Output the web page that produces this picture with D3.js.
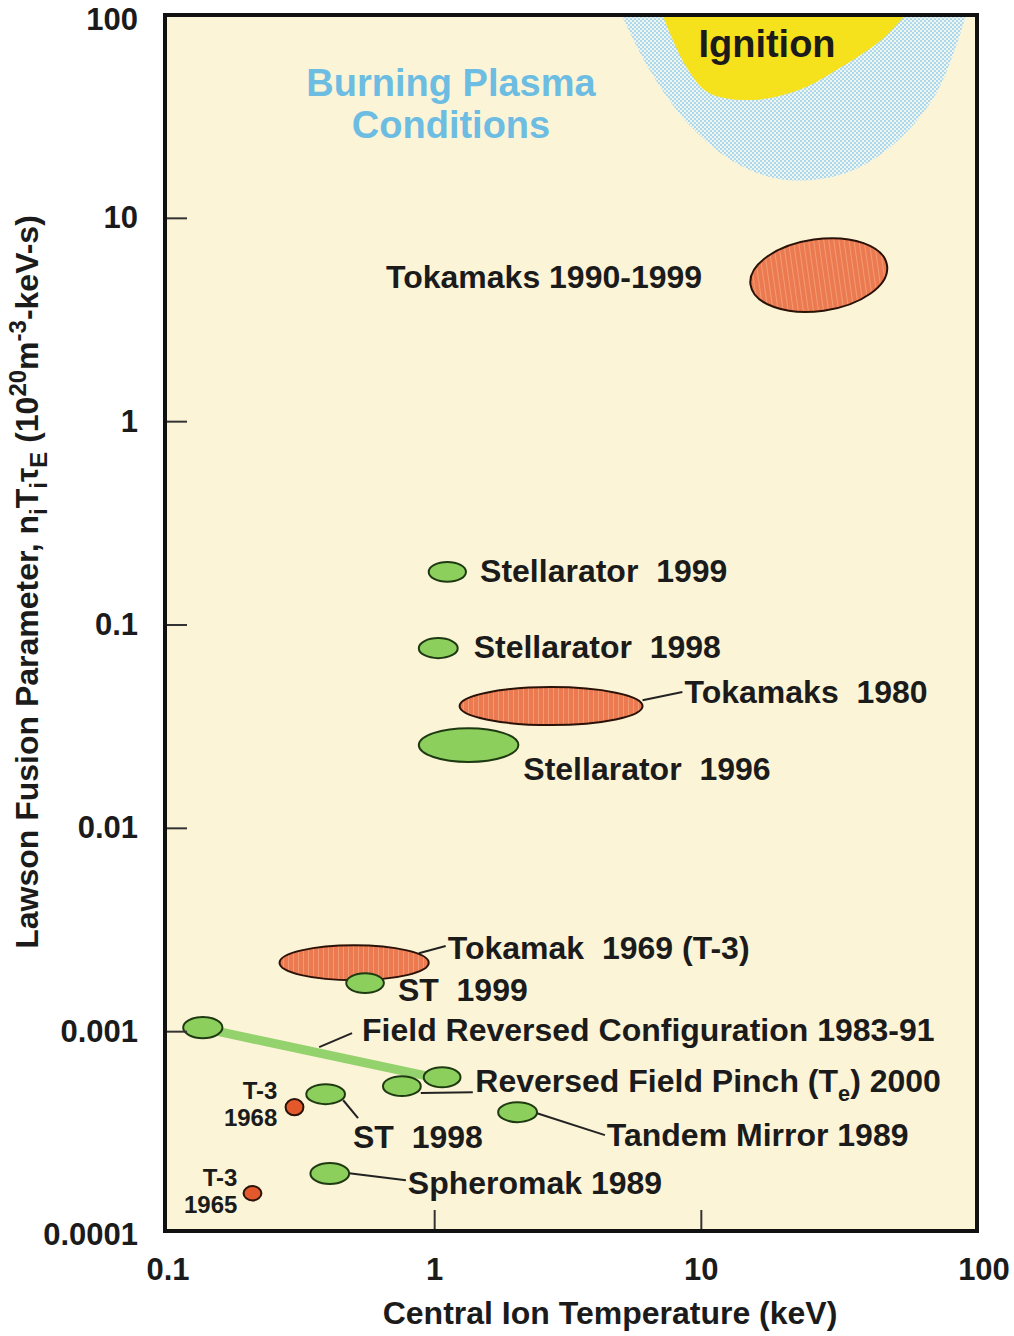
<!DOCTYPE html>
<html>
<head>
<meta charset="utf-8">
<script src="https://cdn.jsdelivr.net/npm/d3@7"></script>
<style>
  body { margin: 0; background: #fff; }
  text { font-family: "Liberation Sans", Arial, sans-serif; font-weight: bold; fill: #1b1b1b; white-space: pre; }
</style>
</head>
<body>
<svg width="1014" height="1336"></svg>
<script>
// axis ticks
var xTicks = [0.1, 1, 10, 100];
var xTickLabels = ["0.1", "1", "10", "100"];
var yTicks = [100, 10, 1, 0.1, 0.01, 0.001, 0.0001];
var yTickLabels = ["100", "10", "1", "0.1", "0.01", "0.001", "0.0001"];

// device regions (ellipses): temperature range (keV) and Lawson parameter range
var shapeNames = ["Tokamaks 1990-1999", "Stellarator 1999", "Stellarator 1998", "Tokamaks 1980",
  "Stellarator 1996", "Tokamak 1969", "ST 1999", "FRC 1983", "FRC 1991", "RFP 2000", "ST 1998",
  "T-3 1968", "Tandem Mirror 1989", "Spheromak 1989", "T-3 1965"];
var shapeKind = ["tok", "alt", "alt", "tok", "alt", "tok", "alt", "alt", "alt", "alt", "alt", "dot", "alt", "alt", "dot"];
var tempLo = [15.2, 0.95, 0.872, 1.24, 0.872, 0.262, 0.466, 0.114, 0.910, 0.640, 0.330, 0.276, 1.73, 0.342, 0.192];
var tempHi = [50.0, 1.31, 1.22, 6.02, 2.06, 0.95, 0.645, 0.160, 1.25, 0.887, 0.461, 0.322, 2.42, 0.478, 0.224];
var lawLo = [3.50, 0.163, 0.0687, 0.0322, 0.0212, 0.00179, 0.00155, 0.000929, 0.000533, 0.000482, 0.000440, 0.000388, 0.000359, 0.000178, 0.000148];
var lawHi = [7.90, 0.204, 0.0862, 0.0495, 0.0311, 0.00266, 0.00194, 0.00118, 0.000669, 0.000604, 0.000552, 0.000466, 0.000450, 0.000226, 0.000174];
var tilt = [-8, 0, 0, 0, 0, 0, 0, 0, 0, 0, 0, 0, 0, 0, 0];

// FRC progression band
var frcT = [0.135, 0.94];
var frcN = [0.00104, 0.000604];

// labels (left edge, middle)
var labelText = ["Tokamaks 1990-1999", "Stellarator  1999", "Stellarator  1998", "Tokamaks  1980",
  "Stellarator  1996", "Tokamak  1969 (T-3)", "ST  1999", "Field Reversed Configuration 1983-91",
  "Reversed Field Pinch (T_{e}) 2000", "ST  1998", "Tandem Mirror 1989", "Spheromak 1989"];
var labelT = [0.657, 1.48, 1.40, 8.65, 2.15, 1.12, 0.728, 0.534, 1.42, 0.494, 4.42, 0.793];
var labelN = [5.15, 0.184, 0.0778, 0.0468, 0.0195, 0.00258, 0.00160, 0.00102, 0.000571, 0.000303, 0.000310, 0.000180];

// small T-3 labels (right aligned, two lines)
var smallLines = [["T-3", "1968"], ["T-3", "1965"]];
var smallT = [0.257, 0.182];
var smallN = [0.000440, 0.000164];

// leader lines
var leaderT = [[6.02, 8.49], [0.872, 1.10], [0.369, 0.490], [0.887, 1.39], [0.454, 0.516], [2.42, 4.35], [0.478, 0.780]];
var leaderN = [[0.0427, 0.0468], [0.00243, 0.00264], [0.000839, 0.000984], [0.000499, 0.000504], [0.000460, 0.000376], [0.000397, 0.000310], [0.000201, 0.000186]];

// burning plasma and ignition regions
var burnT = [5.03, 6.40, 9.02, 13.9, 21.3, 35.7, 54.8, 77.3, 98.4];
var burnN = [100, 53.6, 28.8, 18.3, 15.4, 16.9, 24.3, 42.8, 100];
var ignT = [7.15, 8.79, 10.7, 15.5, 23.2, 30.8, 47.3, 58.2];
var ignN = [100, 55.5, 41.3, 38.2, 42.8, 51.9, 75.3, 100];

var svg = d3.select("svg");
var x = d3.scaleLog().domain([0.1, 100]).range([168, 968]);
var y = d3.scaleLog().domain([0.0001, 100]).range([1235, 15]);
var frame = {x0: 165, x1: 977, y0: 15, y1: 1231};

var defs = svg.append("defs");
var dots = defs.append("pattern").attr("id", "dots").attr("width", 4).attr("height", 4)
  .attr("patternUnits", "userSpaceOnUse");
dots.append("rect").attr("width", 4).attr("height", 4).attr("fill", "#eef6ee");
dots.append("circle").attr("cx", 1).attr("cy", 1).attr("r", 1.1).attr("fill", "#a6d4ec");
dots.append("circle").attr("cx", 3).attr("cy", 3).attr("r", 1.1).attr("fill", "#a6d4ec");
var stripes = defs.append("pattern").attr("id", "stripes").attr("width", 5).attr("height", 5)
  .attr("patternUnits", "userSpaceOnUse");
stripes.append("rect").attr("width", 5).attr("height", 5).attr("fill", "#ec7a50");
stripes.append("rect").attr("x", 3).attr("width", 1).attr("height", 5).attr("fill", "#f39a74");
defs.append("clipPath").attr("id", "plotclip").append("rect")
  .attr("x", frame.x0).attr("y", frame.y0).attr("width", frame.x1 - frame.x0).attr("height", frame.y1 - frame.y0);

svg.append("rect").attr("x", frame.x0).attr("y", frame.y0)
  .attr("width", frame.x1 - frame.x0).attr("height", frame.y1 - frame.y0).attr("fill", "#fcf4d7");

var plot = svg.append("g").attr("clip-path", "url(#plotclip)");
var area = d3.line().x(function(d) { return x(d[0]); }).y(function(d) { return y(d[1]); })
  .curve(d3.curveCatmullRom);

plot.append("path").attr("d", area(d3.zip(burnT, burnN)) + "Z").attr("fill", "url(#dots)");
plot.append("path").attr("d", area(d3.zip(ignT, ignN)) + "Z").attr("fill", "#f6e21c");

// helper: text with _{sub} and ^{sup}
function richText(sel, str, size, small) {
  small = small || 0.68;
  var parts = str.split(/([_^]\{[^}]*\})/).filter(function(p) { return p.length; });
  var shift = 0;
  parts.forEach(function(p) {
    var t = sel.append("tspan");
    var target = 0, txt = p;
    if (p[0] === "_") { target = size * 0.28; txt = p.slice(2, -1); t.attr("font-size", size * small); }
    else if (p[0] === "^") { target = -size * 0.38; txt = p.slice(2, -1); t.attr("font-size", size * small); }
    t.attr("dy", target - shift).text(txt);
    shift = target;
  });
}

var tx = plot.append("text").attr("x", 451).attr("y", y(100) + 81).attr("text-anchor", "middle")
  .attr("font-size", 38).style("fill", "#6dbde2");
tx.append("tspan").attr("x", 451).text("Burning Plasma");
tx.append("tspan").attr("x", 451).attr("dy", 42).text("Conditions");
plot.append("text").attr("x", 767).attr("y", y(100) + 42).attr("text-anchor", "middle")
  .attr("font-size", 38).text("Ignition");

// FRC band
plot.append("line").attr("x1", x(frcT[0])).attr("y1", y(frcN[0]))
  .attr("x2", x(frcT[1])).attr("y2", y(frcN[1]))
  .attr("stroke", "#93d26c").attr("stroke-width", 9);

// leader lines
leaderT.forEach(function(t, i) {
  plot.append("line").attr("x1", x(t[0])).attr("y1", y(leaderN[i][0]))
    .attr("x2", x(t[1])).attr("y2", y(leaderN[i][1]))
    .attr("stroke", "#222").attr("stroke-width", 2);
});

// ellipses
shapeNames.forEach(function(name, i) {
  var x0 = x(tempLo[i]), x1 = x(tempHi[i]), y0 = y(lawHi[i]), y1 = y(lawLo[i]);
  var cx = (x0 + x1) / 2, cy = (y0 + y1) / 2;
  var k = shapeKind[i];
  plot.append("ellipse")
    .attr("cx", cx).attr("cy", cy).attr("rx", (x1 - x0) / 2).attr("ry", (y1 - y0) / 2)
    .attr("transform", "rotate(" + tilt[i] + "," + cx + "," + cy + ")")
    .attr("fill", k === "tok" ? "url(#stripes)" : k === "dot" ? "#e4592c" : "#8dcf5c")
    .attr("stroke", k === "alt" ? "#1e3a12" : "#2a1208")
    .attr("stroke-width", 2);
});

// labels
labelText.forEach(function(s, i) {
  var t = plot.append("text").attr("x", x(labelT[i])).attr("y", y(labelN[i]) + 11)
    .attr("font-size", 32);
  richText(t, s, 32);
});
smallLines.forEach(function(lines, i) {
  var t = plot.append("text").attr("text-anchor", "end").attr("font-size", 24);
  t.append("tspan").attr("x", x(smallT[i])).attr("y", y(smallN[i]) - 5).text(lines[0]);
  t.append("tspan").attr("x", x(smallT[i])).attr("y", y(smallN[i]) + 22).text(lines[1]);
});

// ticks
svg.selectAll(".ytick").data(yTicks.slice(1, -1)).enter().append("line")
  .attr("x1", frame.x0).attr("x2", frame.x0 + 22)
  .attr("y1", function(d) { return y(d); }).attr("y2", function(d) { return y(d); })
  .attr("stroke", "#333").attr("stroke-width", 2);
svg.selectAll(".xtick").data(xTicks.slice(1, -1)).enter().append("line")
  .attr("x1", function(d) { return x(d); }).attr("x2", function(d) { return x(d); })
  .attr("y1", frame.y1).attr("y2", frame.y1 - 21)
  .attr("stroke", "#333").attr("stroke-width", 2);

svg.append("rect").attr("x", frame.x0).attr("y", frame.y0)
  .attr("width", frame.x1 - frame.x0).attr("height", frame.y1 - frame.y0)
  .attr("fill", "none").attr("stroke", "#111").attr("stroke-width", 4);

svg.selectAll(".ylab").data(yTicks).enter().append("text")
  .attr("x", 138).attr("y", function(d, i) { return y(d) + 10 + (i === 0 ? 5 : 0); })
  .attr("text-anchor", "end").attr("font-size", 31)
  .text(function(d, i) { return yTickLabels[i]; });
svg.selectAll(".xlab").data(xTicks).enter().append("text")
  .attr("x", function(d, i) { return x(d) + (i === 3 ? 16 : 0); }).attr("y", 1280)
  .attr("text-anchor", "middle").attr("font-size", 31)
  .text(function(d, i) { return xTickLabels[i]; });

svg.append("text").attr("x", 610).attr("y", 1324).attr("text-anchor", "middle")
  .attr("font-size", 32).text("Central Ion Temperature (keV)");
var yt = svg.append("text").attr("transform", "translate(38,582) rotate(-90)")
  .attr("text-anchor", "middle").attr("font-size", 32);
richText(yt, "Lawson Fusion Parameter, n_{i}T_{i}\u03C4_{E} (10^{20}m^{-3}-keV-s)", 32, 0.75);
</script>
</body>
</html>
